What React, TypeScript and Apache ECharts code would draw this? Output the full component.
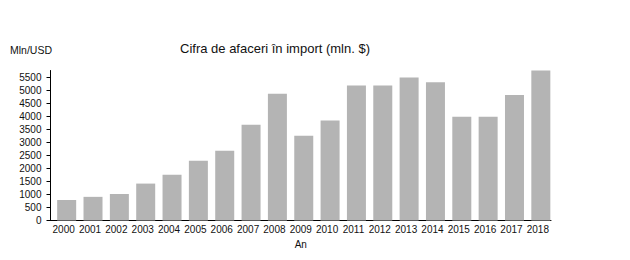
import React, { useEffect, useRef } from "react";
import * as echarts from "echarts";

const categories = ["2000","2001","2002","2003","2004","2005","2006","2007","2008","2009","2010","2011","2012","2013","2014","2015","2016","2017","2018"];
const importValues = [790, 910, 1020, 1420, 1760, 2300, 2680, 3680, 4880, 3260, 3850, 5190, 5190, 5500, 5320, 3990, 3990, 4830, 5770];
const yMax = 5770;
const yInterval = 500;
const titleText = "Cifra de afaceri în import (mln. $)";
const yUnit = "Mln/USD";
const xName = "An";

const FONT = "'Liberation Sans', Arial, sans-serif";

export default function App() {
  const ref = useRef<HTMLDivElement>(null);
  useEffect(() => {
    if (!ref.current) return;
    const chart = echarts.init(ref.current, null, { renderer: "svg" });
    chart.setOption({
      animation: false,
      backgroundColor: "#ffffff",
      textStyle: { fontFamily: FONT },
      title: [
        {
          text: titleText,
          left: 180,
          top: 42,
          padding: 0,
          textStyle: { fontFamily: FONT, fontSize: 13, fontWeight: "normal", color: "#111" },
        },
        {
          text: yUnit,
          left: 10,
          top: 44,
          padding: 0,
          textStyle: { fontFamily: FONT, fontSize: 10.5, fontWeight: "normal", color: "#111" },
        },
      ],
      grid: { left: 50.5, right: 79, top: 70.5, bottom: 39.5, containLabel: false },
      xAxis: {
        type: "category",
        data: categories,
        name: xName,
        nameLocation: "middle",
        nameGap: 18,
        nameTextStyle: { fontFamily: FONT, fontSize: 10, color: "#111" },
        axisLine: { lineStyle: { color: "#000", width: 1 } },
        axisTick: { show: false },
        axisLabel: { fontFamily: FONT, fontSize: 10, color: "#111", margin: 4, interval: 0 },
        splitLine: { show: false },
      },
      yAxis: {
        type: "value",
        min: 0,
        max: yMax,
        interval: yInterval,
        axisLine: { show: true, lineStyle: { color: "#000", width: 1 } },
        axisTick: { show: true, length: 4, lineStyle: { color: "#000" } },
        axisLabel: {
          fontFamily: FONT,
          fontSize: 10,
          color: "#111",
          margin: 9,
          showMaxLabel: false,
          formatter: (v: number) => String(v),
        },
        splitLine: { show: false },
      },
      series: [
        {
          type: "bar",
          data: categories.map(() => null),
          barWidth: 6,
          barGap: "0%",
          silent: true,
        },
        {
          type: "bar",
          name: titleText,
          data: importValues,
          barWidth: 19,
          barGap: "0%",
          itemStyle: { color: "#b4b4b4" },
        },
      ],
    });
    return () => chart.dispose();
  }, []);
  return (
    <div
      ref={ref}
      style={{ position: "absolute", left: 0, top: 0, width: 630, height: 260 }}
    />
  );
}
